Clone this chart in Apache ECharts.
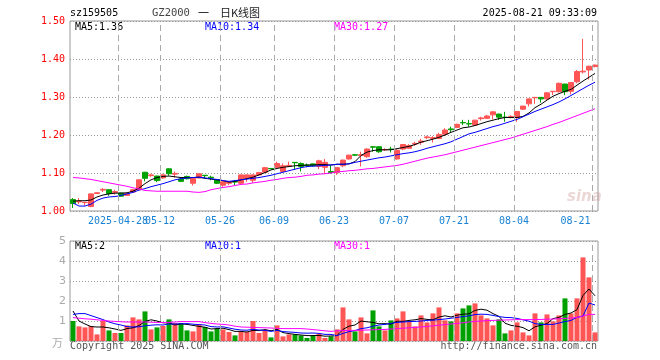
<!DOCTYPE html>
<html><head><meta charset="utf-8">
<script src="https://cdn.jsdelivr.net/npm/echarts@6/dist/echarts.min.js"></script>
<style>html,body{margin:0;padding:0;background:#fff}#c{width:660px;height:360px}</style>
</head><body><div id="c"></div>
<script>
// ---- data ----
const dates = ['2025-04-16','2025-04-17','2025-04-18','2025-04-21','2025-04-22','2025-04-23','2025-04-24','2025-04-25',
'2025-04-28','2025-04-29','2025-04-30','2025-05-06','2025-05-07','2025-05-08','2025-05-09',
'2025-05-12','2025-05-13','2025-05-14','2025-05-15','2025-05-16','2025-05-19','2025-05-20','2025-05-21','2025-05-22','2025-05-23',
'2025-05-26','2025-05-27','2025-05-28','2025-05-29','2025-05-30','2025-06-03','2025-06-04','2025-06-05','2025-06-06',
'2025-06-09','2025-06-10','2025-06-11','2025-06-12','2025-06-13','2025-06-16','2025-06-17','2025-06-18','2025-06-19','2025-06-20',
'2025-06-23','2025-06-24','2025-06-25','2025-06-26','2025-06-27','2025-06-30','2025-07-01','2025-07-02','2025-07-03','2025-07-04',
'2025-07-07','2025-07-08','2025-07-09','2025-07-10','2025-07-11','2025-07-14','2025-07-15','2025-07-16','2025-07-17','2025-07-18',
'2025-07-21','2025-07-22','2025-07-23','2025-07-24','2025-07-25','2025-07-28','2025-07-29','2025-07-30','2025-07-31','2025-08-01',
'2025-08-04','2025-08-05','2025-08-06','2025-08-07','2025-08-08','2025-08-11','2025-08-12','2025-08-13','2025-08-14','2025-08-15',
'2025-08-18','2025-08-19','2025-08-20','2025-08-21'];
const labelDates = ['2025-04-28','2025-05-12','2025-05-26','2025-06-09','2025-06-23','2025-07-07','2025-07-21','2025-08-04','2025-08-21'];

const opens  = [1.030,1.024,1.022,1.012,1.046,1.055,1.056,1.049,1.047,1.041,1.050,1.056,1.102,1.093,1.092,1.087,1.111,1.097,1.084,1.091,1.073,1.087,
1.094,1.089,1.082,1.068,1.073,1.078,1.073,1.086,1.081,1.095,1.102,1.112,1.115,1.104,1.118,1.128,1.125,1.121,1.124,1.117,1.115,1.104,
1.101,1.119,1.137,1.148,1.146,1.143,1.169,1.169,1.161,1.163,1.137,1.163,1.165,1.176,1.181,1.193,1.191,1.191,1.202,1.216,1.220,1.233,
1.230,1.226,1.243,1.244,1.253,1.255,1.247,1.248,1.246,1.268,1.282,1.298,1.299,1.295,1.314,1.314,1.334,1.315,1.340,1.366,1.371,1.380];
const closes = [1.020,1.026,1.023,1.045,1.048,1.057,1.046,1.051,1.039,1.046,1.056,1.082,1.086,1.095,1.080,1.095,1.098,1.099,1.078,1.085,1.086,1.098,
1.093,1.087,1.073,1.077,1.077,1.076,1.095,1.095,1.095,1.101,1.114,1.111,1.125,1.119,1.120,1.127,1.117,1.120,1.119,1.132,1.128,1.101,
1.114,1.134,1.147,1.147,1.148,1.163,1.168,1.156,1.162,1.162,1.160,1.175,1.172,1.178,1.184,1.195,1.193,1.201,1.213,1.214,1.228,1.232,
1.229,1.239,1.245,1.250,1.261,1.247,1.246,1.249,1.262,1.276,1.295,1.299,1.295,1.311,1.315,1.336,1.314,1.338,1.367,1.368,1.381,1.384];
const highs  = [1.034,1.034,1.023,1.046,1.049,1.060,1.058,1.056,1.048,1.047,1.057,1.083,1.103,1.098,1.093,1.098,1.112,1.104,1.088,1.093,1.087,1.099,
1.094,1.093,1.083,1.078,1.078,1.081,1.096,1.096,1.096,1.103,1.116,1.112,1.130,1.125,1.130,1.128,1.128,1.125,1.125,1.135,1.137,1.119,
1.115,1.135,1.148,1.150,1.156,1.165,1.169,1.170,1.165,1.169,1.162,1.176,1.176,1.182,1.190,1.198,1.197,1.206,1.218,1.222,1.230,1.240,
1.240,1.240,1.248,1.253,1.262,1.256,1.261,1.252,1.263,1.277,1.296,1.299,1.299,1.313,1.315,1.338,1.335,1.339,1.371,1.453,1.382,1.385];
const lows   = [1.008,1.018,1.014,1.010,1.045,1.050,1.040,1.043,1.038,1.040,1.048,1.055,1.078,1.090,1.076,1.085,1.093,1.088,1.076,1.083,1.067,1.086,
1.086,1.081,1.071,1.064,1.068,1.068,1.070,1.077,1.074,1.093,1.100,1.111,1.112,1.102,1.117,1.108,1.104,1.115,1.117,1.110,1.099,1.099,
1.095,1.115,1.135,1.145,1.117,1.140,1.156,1.153,1.158,1.154,1.135,1.160,1.163,1.171,1.174,1.189,1.180,1.189,1.198,1.207,1.218,1.226,
1.222,1.225,1.238,1.242,1.241,1.240,1.235,1.244,1.235,1.266,1.275,1.282,1.285,1.293,1.305,1.312,1.305,1.307,1.336,1.362,1.346,1.378];
const ma5  = [1.026,1.027,1.027,1.029,1.037,1.042,1.045,1.047,1.047,1.048,1.052,1.060,1.072,1.082,1.088,1.091,1.092,1.090,1.088,1.088,
1.088,1.089,1.086,1.084,1.082,1.080,1.076,1.078,1.082,1.085,1.089,1.095,1.101,1.108,1.112,1.115,1.117,1.119,1.120,1.121,
1.121,1.122,1.122,1.121,1.123,1.123,1.124,1.130,1.146,1.155,1.159,1.161,1.161,1.161,1.164,1.167,1.170,1.175,1.181,1.185,
1.189,1.194,1.200,1.207,1.213,1.219,1.221,1.225,1.230,1.235,1.239,1.243,1.246,1.246,1.246,1.249,1.258,1.272,1.281,1.292,
1.302,1.309,1.315,1.320,1.331,1.342,1.352,1.362];
const ma10 = [1.021,1.013,1.013,1.018,1.028,1.034,1.037,1.038,1.041,1.045,1.049,1.055,1.059,1.064,1.068,1.072,1.077,1.082,1.085,1.087,1.088,1.089,
1.087,1.085,1.083,1.080,1.078,1.080,1.082,1.084,1.086,1.088,1.091,1.094,1.098,1.102,1.106,1.110,1.114,1.117,1.118,1.119,1.120,1.121,
1.123,1.123,1.124,1.128,1.131,1.134,1.137,1.140,1.142,1.145,1.148,1.151,1.153,1.156,1.160,1.165,1.169,1.173,1.177,1.182,1.189,1.196,
1.203,1.207,1.212,1.217,1.222,1.226,1.231,1.236,1.241,1.248,1.255,1.262,1.268,1.274,1.280,1.287,1.295,1.304,1.313,1.322,1.331,1.339];
const ma30 = [1.088,1.087,1.085,1.083,1.080,1.077,1.074,1.071,1.068,1.065,1.061,1.058,1.054,1.053,1.052,1.052,1.052,1.052,1.052,1.052,1.050,1.049,
1.051,1.056,1.059,1.062,1.064,1.067,1.070,1.071,1.074,1.076,1.078,1.081,1.083,1.086,1.088,1.089,1.091,1.094,1.095,1.097,1.098,1.100,
1.103,1.104,1.106,1.107,1.109,1.111,1.112,1.114,1.116,1.118,1.120,1.123,1.127,1.131,1.135,1.139,1.142,1.145,1.148,1.152,1.156,1.160,
1.164,1.168,1.172,1.176,1.180,1.184,1.188,1.192,1.197,1.202,1.207,1.212,1.217,1.222,1.228,1.233,1.239,1.245,1.251,1.257,1.263,1.269];
const volumes = [1.0,0.73,0.68,0.75,0.33,1.0,0.53,0.4,0.4,0.78,1.18,1.08,1.48,0.58,0.68,0.75,1.08,0.9,0.9,0.53,0.48,0.82,0.7,0.48,0.62,
0.58,0.45,0.28,0.45,0.45,1.0,0.4,0.53,0.18,0.78,0.23,0.33,0.33,0.28,0.15,0.28,0.35,0.15,0.23,
0.58,1.68,1.08,0.48,1.18,0.38,1.53,0.73,0.53,1.03,1.13,1.48,0.98,0.73,1.28,0.93,1.38,1.68,1.03,0.98,1.38,1.63,1.78,1.88,1.28,
1.13,0.78,1.08,0.38,0.53,0.93,0.43,0.28,1.38,0.93,1.33,0.98,1.28,2.13,1.38,2.13,4.18,3.18,0.43];
const vma5 = [1.5,1.0,0.85,0.72,0.70,0.70,0.66,0.60,0.53,0.62,0.66,0.77,0.98,1.06,1.0,0.91,0.91,0.80,0.86,0.83,
0.78,0.73,0.69,0.60,0.62,0.64,0.57,0.48,0.48,0.45,0.53,0.52,0.57,0.51,0.58,0.42,0.37,0.33,0.30,0.27,0.27,0.28,0.24,0.25,
0.27,0.58,0.74,0.80,1.00,0.96,0.93,0.86,0.87,0.84,0.99,0.98,1.03,1.06,1.12,1.08,1.06,1.20,1.26,1.20,
1.29,1.34,1.36,1.53,1.59,1.54,1.37,1.23,0.89,0.78,0.74,0.67,0.51,0.71,0.79,0.87,1.12,1.18,1.33,1.40,1.57,2.28,2.60,2.26];
const vma10 = [1.33,1.37,1.37,1.27,1.17,1.07,0.95,0.86,0.80,0.72,0.70,0.71,0.76,0.79,0.81,0.80,0.85,0.85,0.86,0.87,
0.84,0.82,0.80,0.72,0.70,0.71,0.65,0.59,0.55,0.54,0.58,0.55,0.53,0.48,0.53,0.47,0.45,0.43,0.40,0.39,0.40,0.38,0.33,0.33,
0.27,0.38,0.47,0.52,0.62,0.66,0.74,0.80,0.83,0.88,0.93,0.95,0.97,0.98,1.0,1.03,1.04,1.07,1.10,1.14,
1.18,1.22,1.26,1.32,1.34,1.33,1.28,1.22,1.18,1.17,1.13,1.06,0.99,0.87,0.83,0.83,0.83,0.90,0.97,1.03,1.18,1.25,1.90,1.80];
const vma30 = [1.17,1.14,1.11,1.09,1.06,1.03,1.0,0.98,0.96,0.95,0.95,0.95,0.95,0.94,0.93,0.92,0.93,0.95,0.97,0.97,
0.97,0.97,0.92,0.88,0.85,0.83,0.80,0.74,0.70,0.69,0.68,0.67,0.66,0.65,0.63,0.62,0.62,0.62,0.62,0.60,0.57,0.54,0.51,0.48,
0.51,0.52,0.53,0.53,0.54,0.55,0.56,0.57,0.58,0.60,0.62,0.64,0.66,0.68,0.70,0.73,0.76,0.79,0.82,0.85,
0.88,0.91,0.95,0.98,1.00,1.02,1.03,1.04,1.05,1.06,1.07,1.07,1.07,1.07,1.08,1.09,1.10,1.11,1.13,1.15,1.18,1.25,1.33,1.33];
const priceTicks = {min: 1.0, max: 1.5, step: 0.1};
const volTicks = {min: 0, max: 5, step: 1};

// ---- styles ----
const RED = '#ff5555', GREEN = '#00a000';
const MONO = '"DejaVu Sans Mono", monospace';
const BLUE_LBL = '#1a82d4';
const labelSet = new Set(labelDates);
const lastIdx = dates.length - 1;
// category boundaries (left edge of each labelled day) for the dashed separators
const markIdx = labelDates.map((d) => dates.indexOf(d));

const candleData = dates.map((d, i) => [opens[i], closes[i], lows[i], highs[i]]);
const volData = volumes.map((v, i) => ({value: v, itemStyle: {color: closes[i] >= opens[i] ? RED : GREEN}}));

const hSplit = {show: true, lineStyle: {color: '#999', width: 1, type: [1, 2]}};
const sepLine = {
  silent: true, symbol: ['none', 'none'], label: {show: false},
  lineStyle: {color: '#aaa', width: 1, type: [6, 4]},
  data: markIdx.map((k) => ({xAxis: k}))
};

function txt(text, x, y, color, opts) {
  return Object.assign({type: 'text', silent: true, style: Object.assign({
    text, x, y, fill: color, font: '10px ' + MONO,
    align: 'left', textAlign: 'left', verticalAlign: 'middle', textVerticalAlign: 'middle'
  }, opts || {})});
}
const bOff = 1 / 12; // half-pixel offset so the dashed separators render crisp

const option = {
  animation: false,
  backgroundColor: '#fff',
  grid: [
    {left: 70, top: 21, width: 528, height: 190, show: true, borderColor: '#999', borderWidth: 1, backgroundColor: 'transparent'},
    {left: 70, top: 241, width: 528, height: 100, show: true, borderColor: '#999', borderWidth: 1, backgroundColor: 'transparent'}
  ],
  xAxis: [
    {type: 'category', gridIndex: 0, data: dates, boundaryGap: true,
     axisLine: {show: false}, axisTick: {show: false}, splitLine: {show: false},
     axisLabel: {show: true, interval: 0, hideOverlap: false,
       margin: 5, color: BLUE_LBL, fontFamily: MONO, fontSize: 10,
       formatter: (v, i) => {
         if (!labelSet.has(v)) return '';
         const t = (v === labelDates[0]) ? v : v.slice(5);
         return i === lastIdx ? '{e|' + t + '}' : '{n|' + t + '}';
       },
       rich: {
         n: {padding: [0, 6, 0, 0], color: BLUE_LBL, fontFamily: MONO, fontSize: 10},
         e: {padding: [0, 39, 0, 0], color: BLUE_LBL, fontFamily: MONO, fontSize: 10}
       }}},
    {type: 'category', gridIndex: 1, data: dates, boundaryGap: true,
     axisLine: {show: false}, axisTick: {show: false}, splitLine: {show: false}, axisLabel: {show: false}},
    {type: 'value', gridIndex: 0, min: -bOff, max: dates.length - bOff, show: false},
    {type: 'value', gridIndex: 1, min: -bOff, max: dates.length - bOff, show: false}
  ],
  yAxis: [
    {type: 'value', gridIndex: 0, min: priceTicks.min, max: priceTicks.max, interval: priceTicks.step, scale: false,
     axisLine: {show: false}, axisTick: {show: false}, splitLine: hSplit,
     axisLabel: {color: '#ff0000', fontFamily: MONO, fontSize: 10, margin: 5, formatter: (v) => v.toFixed(2)}},
    {type: 'value', gridIndex: 1, min: volTicks.min, max: volTicks.max, interval: volTicks.step,
     axisLine: {show: false}, axisTick: {show: false}, splitLine: hSplit,
     axisLabel: {color: '#aaa', fontFamily: '"DejaVu Sans", sans-serif', fontSize: 11, margin: 4,
       formatter: (v) => v === 0 ? '' : String(v)}}
  ],
  series: [
    {type: 'line', xAxisIndex: 2, yAxisIndex: 0, data: [[0, priceTicks.min]], symbol: 'none', z: 1,
     lineStyle: {opacity: 0}, markLine: sepLine},
    {type: 'line', xAxisIndex: 3, yAxisIndex: 1, data: [[0, volTicks.min]], symbol: 'none', z: 1,
     lineStyle: {opacity: 0}, markLine: sepLine},
    {type: 'candlestick', xAxisIndex: 0, yAxisIndex: 0, data: candleData, barWidth: 5, z: 2,
     itemStyle: {color: RED, color0: GREEN, borderColor: RED, borderColor0: GREEN, borderWidth: 1}},
    {type: 'line', xAxisIndex: 0, yAxisIndex: 0, data: ma5, showSymbol: false, symbol: 'none', z: 3,
     lineStyle: {color: '#000', width: 1}},
    {type: 'line', xAxisIndex: 0, yAxisIndex: 0, data: ma10, showSymbol: false, symbol: 'none', z: 3,
     lineStyle: {color: '#0000ff', width: 1}},
    {type: 'line', xAxisIndex: 0, yAxisIndex: 0, data: ma30, showSymbol: false, symbol: 'none', z: 3,
     lineStyle: {color: '#ff00ff', width: 1}},
    {type: 'bar', xAxisIndex: 1, yAxisIndex: 1, data: volData, barWidth: 5, z: 2},
    {type: 'line', xAxisIndex: 1, yAxisIndex: 1, data: vma5, showSymbol: false, symbol: 'none', z: 3,
     lineStyle: {color: '#000', width: 1}},
    {type: 'line', xAxisIndex: 1, yAxisIndex: 1, data: vma10, showSymbol: false, symbol: 'none', z: 3,
     lineStyle: {color: '#0000ff', width: 1}},
    {type: 'line', xAxisIndex: 1, yAxisIndex: 1, data: vma30, showSymbol: false, symbol: 'none', z: 3,
     lineStyle: {color: '#ff00ff', width: 1}}
  ],
  graphic: [
    txt('sz159505', 70, 13, '#000'),
    txt('GZ2000', 152, 13, '#444', {font: '10.5px ' + MONO}),
    txt('一', 198, 13, '#222', {font: '11px "Noto Sans CJK SC"'}),
    txt('日K线图', 220, 13, '#222', {font: '11px "Noto Sans CJK SC"'}),
    txt('2025-08-21 09:33:09', 597, 13, '#000', {align: 'right', textAlign: 'right'}),
    txt('MA5:1.36', 75, 27, '#000'),
    txt('MA10:1.34', 205, 27, '#0000ff'),
    txt('MA30:1.27', 334, 27, '#ff00ff'),
    txt('MA5:2', 75, 246, '#000'),
    txt('MA10:1', 205, 246, '#0000ff'),
    txt('MA30:1', 334, 246, '#ff00ff'),
    txt('万', 52, 343, '#aaa', {font: '11px "Noto Sans CJK SC"'}),
    txt('Copyright 2025 SINA.COM', 70, 346, '#555'),
    txt('http://finance.sina.com.cn', 597, 346, '#555', {align: 'right', textAlign: 'right'}),
    txt('sina', 567, 197, 'rgba(200,140,140,0.35)', {font: 'italic bold 15px "DejaVu Sans", sans-serif'})
  ]
};
const chart = echarts.init(document.getElementById('c'), null, {renderer: 'canvas', width: 660, height: 360});
chart.setOption(option);
</script></body></html>
